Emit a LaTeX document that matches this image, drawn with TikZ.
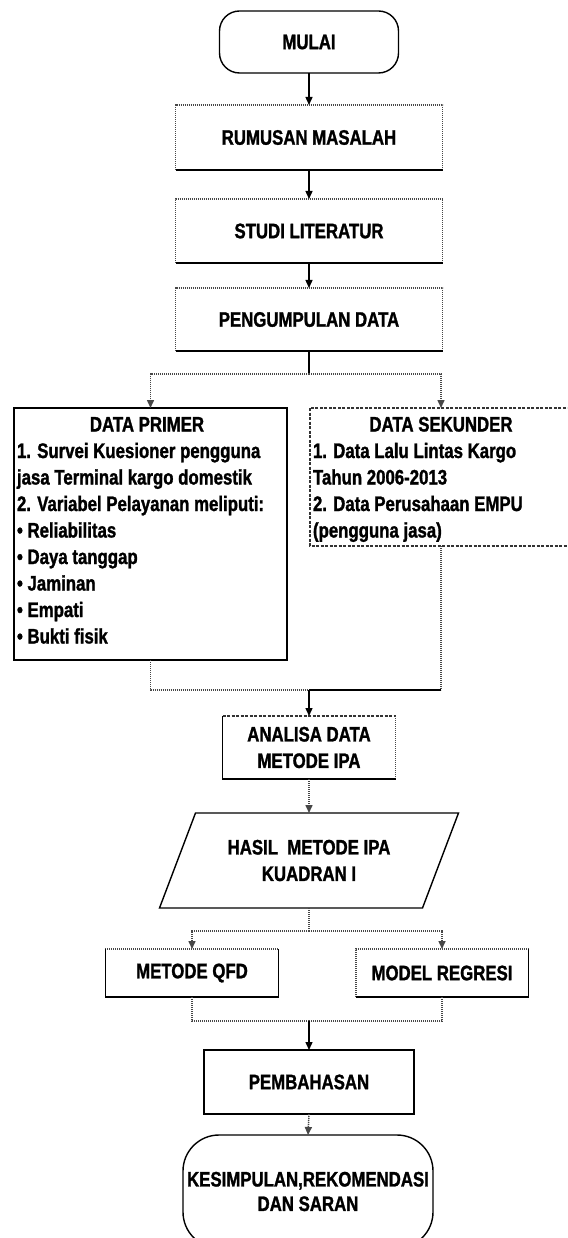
\documentclass[tikz,border=0pt]{standalone}
\usepackage{fontspec}
\setmainfont[FakeStretch=0.8, BoldFeatures={FakeBold=1.3}]{Liberation Sans}
\usetikzlibrary{arrows.meta}
\newcommand\flowtxt{\fontsize{21}{26.5}\selectfont\bfseries}
\tikzset{
  solidln/.style={draw=black, line width=1.4pt},
  dotln/.style={draw=black!72, line width=1.5pt, dash pattern=on 1.2pt off 0.8pt},
  dashln/.style={draw=black!80, line width=1.3pt, dash pattern=on 3pt off 1.5pt},
  boxarea/.style={rectangle, draw=none, inner sep=0pt, outer sep=0pt, align=center, font=\flowtxt},
  plaintxt/.style={inner sep=0pt, outer sep=0pt, font=\flowtxt},
  tip/.style={-{Triangle[length=8pt,width=7pt]}},
}
\begin{document}
\begin{tikzpicture}[x=1pt,y=-1pt]
\useasboundingbox (0,0) rectangle (567,1238);
\fill[white] (0,0) rectangle (567,1238);
\clip (0,0) rectangle (567,1238);

% ---- nodes ----
\node[boxarea, draw=black, line width=1.4pt, rounded corners=20pt,
      minimum width=179pt, minimum height=62pt] (mulai) at (309,42) {MULAI};
\node[boxarea, minimum width=267pt, minimum height=65pt] (rum) at (309,137.5) {RUMUSAN MASALAH};
\node[boxarea, minimum width=267pt, minimum height=64pt] (studi) at (309,231) {STUDI LITERATUR};
\node[boxarea, minimum width=267pt, minimum height=63pt] (peng) at (309,319.5) {PENGUMPULAN DATA};

\node[boxarea, minimum width=273pt, minimum height=252pt] (dpbox) at (150.5,534) {};
\node[plaintxt, anchor=base] (dptitle) at (147,431.5) {DATA PRIMER};
\node[plaintxt, anchor=base west] (dpbody) at (17,458) {\begin{tabular}[t]{@{}l@{}}
1. Survei Kuesioner pengguna\\
jasa Terminal kargo domestik\\
2. Variabel Pelayanan meliputi:\\
• Reliabilitas\\
• Daya tanggap\\
• Jaminan\\
• Empati\\
• Bukti fisik
\end{tabular}};

\node[boxarea, minimum width=262pt, minimum height=138pt] (dsbox) at (441,477) {};
\node[plaintxt, anchor=base] (dstitle) at (441,431.5) {DATA SEKUNDER};
\node[plaintxt, anchor=base west] (dsbody) at (313,458) {\begin{tabular}[t]{@{}l@{}}
1. Data Lalu Lintas Kargo\\
Tahun 2006-2013\\
2. Data Perusahaan EMPU\\
(pengguna jasa)
\end{tabular}};

\node[boxarea, minimum width=173pt, minimum height=63pt] (ana) at (309,747.5) {ANALISA DATA\\METODE IPA};
\node[boxarea, minimum width=263pt, minimum height=95pt] (hasil) at (309,860.5) {HASIL\ \ METODE IPA\\KUADRAN I};
\node[boxarea, minimum width=173.5pt, minimum height=48pt] (qfd) at (192,973) {METODE QFD};
\node[boxarea, minimum width=172.5pt, minimum height=48pt] (reg) at (442,973) {MODEL REGRESI};
\node[boxarea, draw=black, line width=1.4pt, minimum width=210pt, minimum height=64pt] (pemb) at (309,1082) {PEMBAHASAN};
\node[boxarea, draw=black, line width=1.4pt, rounded corners=36pt, font=\fontsize{21}{24.5}\selectfont\bfseries,
      minimum width=250pt, minimum height=113pt] (kes) at (308,1191.5) {KESIMPULAN,REKOMENDASI\\DAN SARAN};

% ---- box outlines drawn edge by edge ----
\foreach \b in {rum,studi,peng}{
  \draw[dotln] (\b.south west) -- (\b.north west) -- (\b.north east) -- (\b.south east);
  \draw[solidln] (\b.south west) -- (\b.south east);
}
\draw[solidln] (dpbox.north west) rectangle (dpbox.south east);
\draw[dashln] (dsbox.north west) rectangle (dsbox.south east);
\draw[dashln] (ana.north west) -- (ana.north east);
\draw[dotln] (ana.north east) -- (ana.south east);
\draw[solidln] (ana.north west) -- (ana.south west) -- (ana.south east);
\draw[solidln] ([xshift=18pt]hasil.north west) -- ([xshift=18pt]hasil.north east)
   -- ([xshift=-18pt]hasil.south east) -- ([xshift=-18pt]hasil.south west) -- cycle;
\draw[dotln] (qfd.north west) -- (qfd.north east);
\draw[solidln] (qfd.north east) -- (qfd.south east) -- (qfd.south west) -- (qfd.north west);
\draw[dotln] (reg.south west) -- (reg.north west) -- (reg.north east);
\draw[solidln] (reg.north east) -- (reg.south east) -- (reg.south west);

% ---- connectors ----
\coordinate (split1) at (309,374);
\coordinate (merge1) at (309,690);
\coordinate (split2) at (309,931);
\coordinate (merge2) at (309,1021);

\draw[solidln, tip] (mulai.south) -- (rum.north);
\draw[solidln, tip] (rum.south) -- (studi.north);
\draw[solidln, tip] (studi.south) -- (peng.north);
\draw[solidln] (peng.south) -- (split1);
\draw[dotln, tip] (split1) -| (dpbox.north);
\draw[dotln, tip] (split1) -| (dsbox.north);

\draw[dotln] (dpbox.south) |- (merge1);
\draw[dotln] (dsbox.south) -- (dsbox.south |- merge1);
\draw[solidln] (dsbox.south |- merge1) -- (merge1);
\draw[solidln, tip] (merge1) -- (ana.north);

\draw[dotln, tip] (ana.south) -- (hasil.north);
\draw[dotln] (hasil.south) -- (split2);
\draw[dotln, tip] (split2) -| (qfd.north);
\draw[dotln, tip] (split2) -| (reg.north);

\draw[dotln] (qfd.south) |- (merge2);
\draw[dotln] (reg.south) |- (merge2);
\draw[solidln, tip] (merge2) -- (pemb.north);
\draw[dotln, tip] (pemb.south) -- (kes.north);
\end{tikzpicture}
\end{document}
